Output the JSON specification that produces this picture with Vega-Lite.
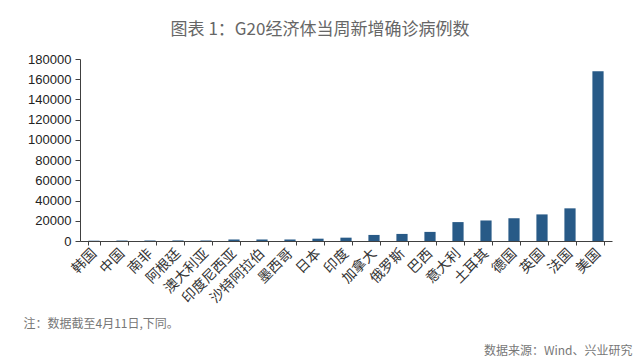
{
  "$schema": "https://vega.github.io/schema/vega-lite/v6.json",
  "autosize": "none",
  "width": 532,
  "height": 182,
  "padding": {"left": 80, "top": 59, "right": 28, "bottom": 122},
  "background": "white",
  "title": {
    "text": "图表 1：G20经济体当周新增确诊病例数",
    "font": "Noto Sans CJK SC",
    "fontSize": 17,
    "fontWeight": "normal",
    "color": "#666666",
    "anchor": "middle",
    "dx": -26,
    "offset": 14
  },
  "data": {
    "values": [
      {"country": "韩国", "cases": 300},
      {"country": "中国", "cases": 450},
      {"country": "南非", "cases": 500},
      {"country": "阿根廷", "cases": 550},
      {"country": "澳大利亚", "cases": 600},
      {"country": "印度尼西亚", "cases": 1500},
      {"country": "沙特阿拉伯", "cases": 1500},
      {"country": "墨西哥", "cases": 1500},
      {"country": "日本", "cases": 2300},
      {"country": "印度", "cases": 3300},
      {"country": "加拿大", "cases": 6000},
      {"country": "俄罗斯", "cases": 7000},
      {"country": "巴西", "cases": 9000},
      {"country": "意大利", "cases": 18700},
      {"country": "土耳其", "cases": 20300},
      {"country": "德国", "cases": 22500},
      {"country": "英国", "cases": 26300},
      {"country": "法国", "cases": 32300},
      {"country": "美国", "cases": 168000}
    ]
  },
  "mark": {"type": "bar", "color": "#285a87"},
  "encoding": {
    "x": {
      "field": "country",
      "type": "nominal",
      "sort": null,
      "scale": {"paddingInner": 0.6, "paddingOuter": 0.3},
      "axis": {
        "title": "注：数据截至4月11日,下同。",
        "titleFont": "Noto Sans CJK SC",
        "titleFontSize": 12,
        "titleFontWeight": "normal",
        "titleColor": "#777777",
        "titleAlign": "left",
        "titleBaseline": "middle",
        "titleX": -57,
        "titleY": 82,
        "labelAngle": -45,
        "labelAlign": "right",
        "labelBaseline": "middle",
        "labelFont": "Noto Sans CJK SC",
        "labelFontSize": 14,
        "labelColor": "#333333",
        "labelPadding": 6,
        "tickBand": "extent",
        "tickSize": 4,
        "tickColor": "#404040",
        "domainColor": "#404040",
        "labelOverlap": false
      }
    },
    "y": {
      "field": "cases",
      "type": "quantitative",
      "scale": {"domain": [0, 180000], "nice": false},
      "axis": {
        "values": [0, 20000, 40000, 60000, 80000, 100000, 120000, 140000, 160000, 180000],
        "format": "d",
        "grid": false,
        "title": "数据来源：Wind、兴业研究",
        "titleFont": "Noto Sans CJK SC",
        "titleFontSize": 12,
        "titleFontWeight": "normal",
        "titleColor": "#777777",
        "titleAngle": 0,
        "titleAlign": "right",
        "titleBaseline": "middle",
        "titleX": 552,
        "titleY": 291,
        "labelFont": "Liberation Sans",
        "labelFontSize": 13,
        "labelColor": "#222222",
        "labelPadding": 4,
        "tickSize": 5,
        "tickColor": "#404040",
        "domainColor": "#404040"
      }
    }
  },
  "config": {"view": {"stroke": null}}
}
